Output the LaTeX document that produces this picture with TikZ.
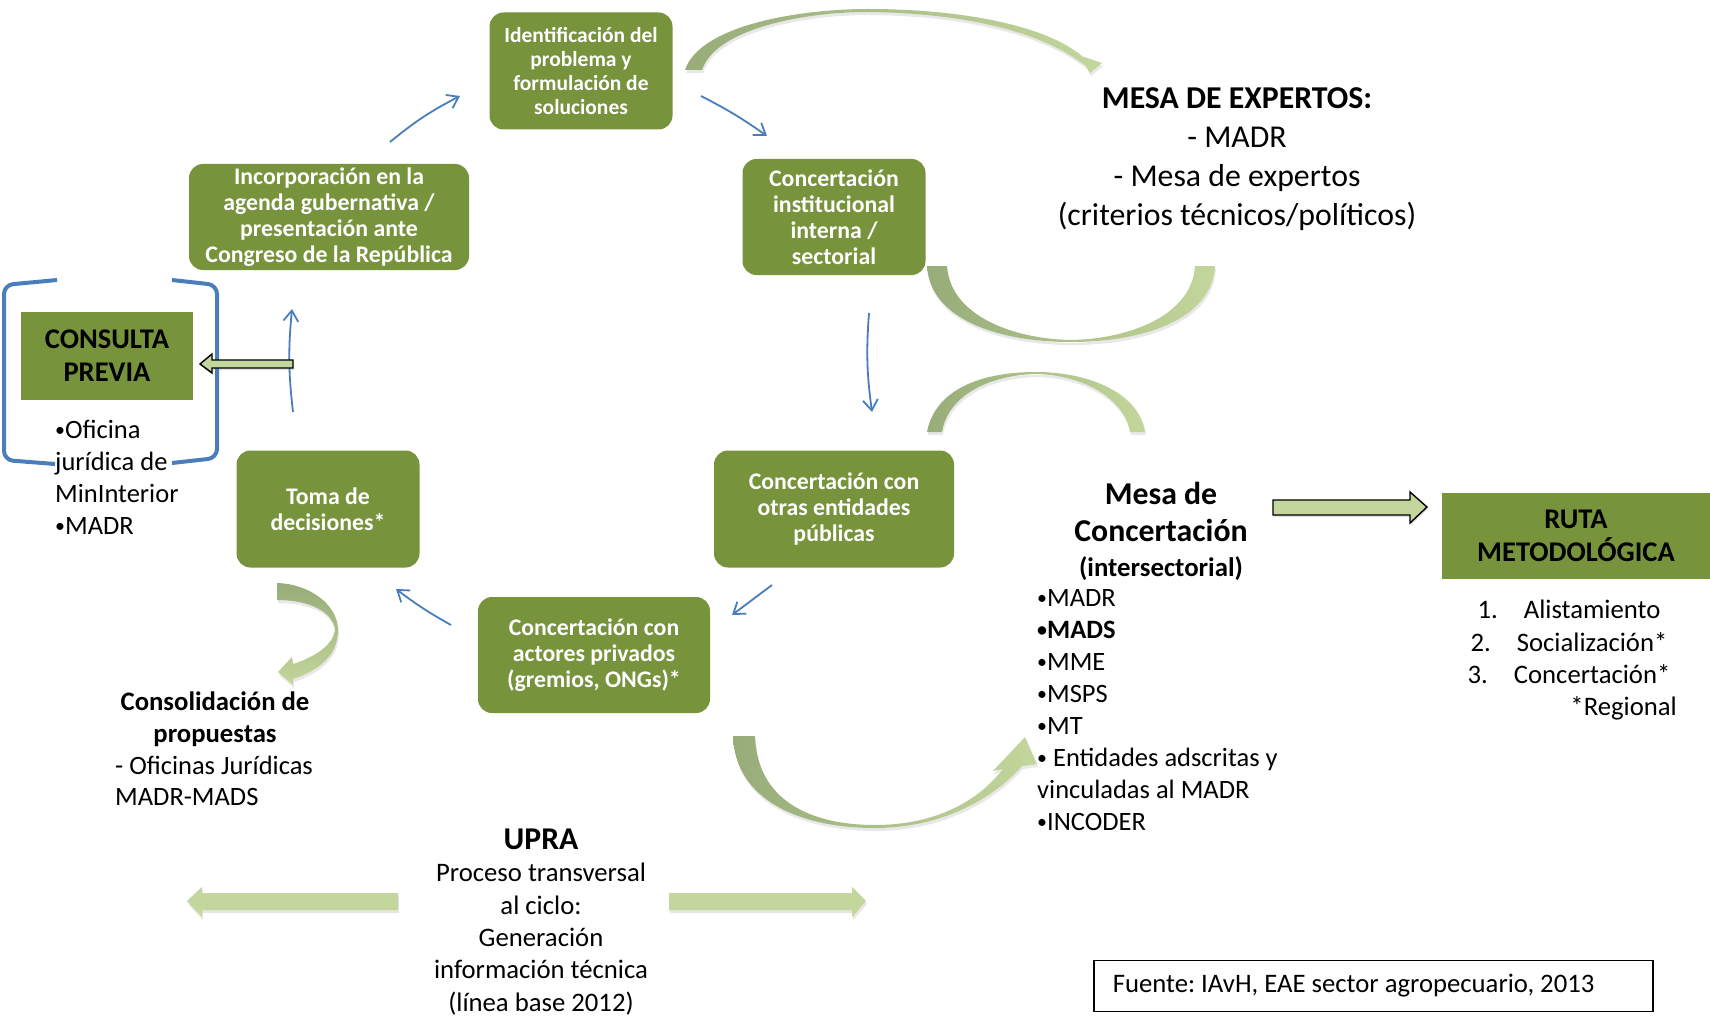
\documentclass[tikz,border=0pt]{standalone}
\usepackage{fontspec}
\setmainfont{Carlito}
\frenchspacing
\usetikzlibrary{arrows.meta,shadows,calc}
\definecolor{oliva}{HTML}{77933C}
\definecolor{verdeclaro}{HTML}{C3D69B}
\definecolor{verdegris}{HTML}{97AC78}
\definecolor{azul}{HTML}{4A7EBB}
\newcommand{\vin}{\raisebox{0.06em}{\scalebox{0.75}{•}}}
\tikzset{
  caja/.style={fill=oliva, rounded corners=14pt, text=white, align=center,
    font=\bfseries\fontsize{23.8}{26}\selectfont, inner sep=0pt},
  titulo/.style={fill=oliva, align=center, font=\bfseries\fontsize{28.5}{33}\selectfont, inner sep=0pt},
  texto/.style={align=left, anchor=west, inner sep=0pt, font=\fontsize{26.5}{32}\selectfont},
  flujo/.style={azul, line width=1.8pt, -{Straight Barb[angle=70:13pt]}},
  curva/.style={left color=verdegris, right color=verdeclaro,
    drop shadow={opacity=0.18, shadow xshift=1pt, shadow yshift=-3pt}},
  bloque/.style={fill=verdeclaro, draw=black, line width=1.4pt,
    drop shadow={opacity=0.25, shadow xshift=1pt, shadow yshift=-2pt}},
  banda/.style={fill=verdeclaro, drop shadow={opacity=0.2, shadow xshift=1pt, shadow yshift=-3pt}}
}

\begin{document}
\begin{tikzpicture}[x=1pt,y=-1pt]
    \useasboundingbox[fill=white] (0,0) rectangle (1710,1019);

    % ciclo
    \node[caja, font=\bfseries\fontsize{21.5}{23.7}\selectfont, minimum width=183pt, minimum height=117pt] (ident) at (581,71) {Identificación del\\problema y\\formulación de\\soluciones};
    \node[caja, minimum width=280pt, minimum height=106pt] (incorp) at (329,217) {Incorporación en la\\agenda gubernativa /\\presentación ante\\Congreso de la República};
    \node[caja, minimum width=183pt, minimum height=116pt] (instit) at (834,217) {Concertación\\institucional\\interna /\\sectorial};
    \node[caja, minimum width=240pt, minimum height=117pt] (publicas) at (834,509) {Concertación con\\otras entidades\\públicas};
    \node[caja, minimum width=183pt, minimum height=117pt] (toma) at (328,509) {Toma de\\decisiones*};
    \node[caja, minimum width=232pt, minimum height=116pt] (privados) at (594,655) {Concertación con\\actores privados\\(gremios, ONGs)*};

    \coordinate (a1) at (390,142); \coordinate (b1) at (460,96);
    \coordinate (a2) at (701,96);  \coordinate (b2) at (767,136);
    \coordinate (a3) at (869,313); \coordinate (b3) at (872,412);
    \coordinate (a4) at (772,585); \coordinate (b4) at (732,615);
    \coordinate (a5) at (451,625); \coordinate (b5) at (396,589);
    \coordinate (a6) at (293,412); \coordinate (b6) at (292,309);
    \draw[flujo] (a1) to[bend left=6] (b1);
    \draw[flujo] (a2) to[bend left=4] (b2);
    \draw[flujo] (a3) to[bend right=6] (b3);
    \draw[flujo] (a4) to (b4);
    \draw[flujo] (a5) to[bend left=4] (b5);
    \draw[flujo] (a6) to[bend left=6] (b6);

    % consulta previa
    \draw[azul, line width=4pt, rounded corners=9pt] (57,280) -- (4,285) -- (4,460) -- (55,464);
    \draw[azul, line width=4pt, rounded corners=9pt] (172,280) -- (217,285) -- (217,458) -- (172,463);
    \node[titulo, minimum width=172pt, minimum height=88pt] (consulta) at (107,356) {CONSULTA\\PREVIA};
    \node[texto] (oficina) at (55,477) {\vin Oficina\\jurídica de\\MinInterior\\\vin MADR};
    \draw[bloque] (293,360) -- (212,360) -- (212,354) -- (200,364) -- (212,373) -- (212,368) -- (293,368) -- cycle;

    % mesa de expertos
    \node[align=center, font=\fontsize{31.8}{39}\selectfont] (expertos) at (1237,159) {\textbf{MESA DE EXPERTOS:}\\- MADR\\- Mesa de expertos\\(criterios técnicos/políticos)};
    \path[curva] (685,70) .. controls (700,25) and (800,9) .. (868,9) .. controls (960,9) and (1045,25) .. (1082,56)
      -- (1075,54) -- (1102,63) -- (1090,73) -- (1086,66) .. controls (1040,30) and (960,13) .. (868,12)
      .. controls (800,12) and (715,30) .. (702,70) -- cycle;
    \path[curva] (927,266) .. controls (930,320) and (1000,342) .. (1071,342) .. controls (1142,342) and (1212,320) .. (1215,266)
      -- (1195,266) .. controls (1192,315) and (1130,339) .. (1071,340) .. controls (1012,339) and (950,315) .. (947,266) -- cycle;

    % mesa de concertacion
    \path[curva] (927,432) .. controls (935,390) and (980,372) .. (1036,372) .. controls (1092,372) and (1140,395) .. (1145,432)
      -- (1130,432) .. controls (1125,400) and (1085,375) .. (1036,374) .. controls (990,375) and (948,395) .. (942,432) -- cycle;
    \path[curva] (733,736) .. controls (735,800) and (800,828) .. (875,828) .. controls (940,828) and (992,800) .. (1022,766)
      -- (1037,764) -- (1025,737) -- (993,771) -- (1003,769) .. controls (975,805) and (930,825) .. (875,825)
      .. controls (810,825) and (757,800) .. (755,736) -- cycle;
    \node[align=center, font=\bfseries\fontsize{31.8}{37.5}\selectfont] (mesa) at (1161,531) {Mesa de\\Concertación\\[-3pt]{\fontsize{26.8}{30}\selectfont(intersectorial)}};
    \node[texto] (entidades) at (1037,710) {\vin MADR\\\textbf{\vin MADS}\\\vin MME\\\vin MSPS\\\vin MT\\\vin{} Entidades adscritas y\\vinculadas al MADR\\\vin INCODER};
    \draw[bloque] (1273,500) -- (1410,500) -- (1410,492) -- (1427,507) -- (1410,523) -- (1410,515) -- (1273,515) -- cycle;

    % ruta metodologica
    \node[titulo, minimum width=268pt, minimum height=86pt] (ruta) at (1576,536) {RUTA\\METODOLÓGICA};
    \node[align=center, font=\fontsize{26.7}{32.4}\selectfont] (pasos) at (1569,642) {1.\hspace{26pt}Alistamiento\\2.\hspace{26pt}Socialización*\\3.\hspace{26pt}Concertación*};
    \node[anchor=east, inner sep=0pt, font=\fontsize{26.7}{32}\selectfont] (regional) at (1677,708) {*Regional};

    % consolidacion
    \path[curva, top color=verdegris, bottom color=verdeclaro] (277,583) .. controls (310,584) and (338,605) .. (338,630)
      .. controls (338,655) and (320,670) .. (293,679) -- (293,685) -- (278,672) -- (292,657) -- (293,664)
      .. controls (315,657) and (333,645) .. (335,630) .. controls (333,612) and (310,600) .. (277,600) -- cycle;
    \node[align=center, font=\bfseries\fontsize{26.7}{32.5}\selectfont] (consol) at (215,719) {Consolidación de\\propuestas};
    \node[texto, font=\fontsize{26.5}{31.5}\selectfont] (juridicas) at (115,781) {- Oficinas Jurídicas\\MADR-MADS};

    % upra
    \node[align=center, font=\fontsize{26.7}{32.3}\selectfont] (upra) at (541,922) {{\bfseries\fontsize{31.7}{36}\selectfont UPRA}\\Proceso transversal\\al ciclo:\\Generación\\información técnica\\(línea base 2012)};
    \path[banda] (398,893) -- (202,893) -- (202,887) -- (187,901) -- (202,917) -- (202,910) -- (398,910) -- cycle;
    \path[banda] (669,893) -- (852,893) -- (852,887) -- (866,901) -- (852,917) -- (852,910) -- (669,910) -- cycle;

    \node[draw=black, line width=1.5pt, anchor=west, inner xsep=19pt, inner ysep=0pt,
      minimum height=51pt, font=\fontsize{26.7}{29}\selectfont] (fuente) at (1093,986) {\makebox[521pt][l]{Fuente: IAvH, EAE sector agropecuario, 2013}};
\end{tikzpicture}
\end{document}
